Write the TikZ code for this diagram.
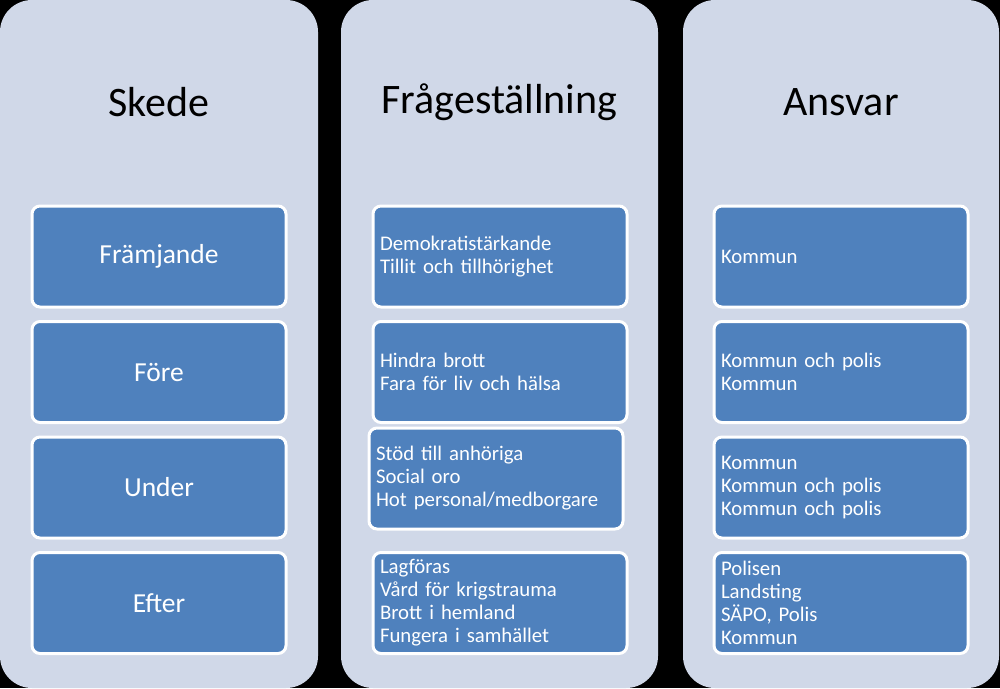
\documentclass[tikz,border=0pt]{standalone}
\usepackage{fontspec}
\setmainfont{Carlito}
\definecolor{colfill}{HTML}{D0D8E8}
\definecolor{boxfill}{HTML}{4F81BD}
\tikzset{
  column/.style={fill=colfill, rounded corners=32pt},
  title/.style={font=\fontsize{42}{50}\selectfont, text=black, anchor=center},
  stagebox/.style={draw=white, line width=3pt, fill=boxfill, rounded corners=8pt,
    minimum width=254pt, minimum height=101pt, text=white,
    font=\fontsize{27.5}{31}\selectfont, anchor=center},
  infobox/.style={draw=white, line width=3pt, fill=boxfill, rounded corners=8pt,
    minimum width=254pt, minimum height=101pt, text=white, inner xsep=7pt,
    text width=240pt, align=left,
    font=\fontsize{20.8}{23}\selectfont, anchor=center},
}
\begin{document}
\begin{tikzpicture}[x=1pt,y=-1pt]
\fill[black] (0,0) rectangle (1000,688);
\useasboundingbox (0,0) rectangle (1000,688);
% columns
\fill[column] (0,0) rectangle (318,688);
\fill[column] (341,0) rectangle (658,688);
\fill[column] (683,0) rectangle (999,688);
% titles
\node[title] (t1) at (159,102) {Skede};
\node[title] (t2) at (499.5,102) {Frågeställning};
\node[title] (t3) at (841,102) {Ansvar};
% stage boxes
\node[stagebox] (s1) at (159,256.5) {Främjande};
\node[stagebox] (s2) at (159,372) {Före};
\node[stagebox] (s3) at (159,487.5) {Under};
\node[stagebox] (s4) at (159,603) {Efter};
% question boxes
\node[infobox] (q1) at (500,256.5) {Demokratistärkande\\Tillit och tillhörighet};
\node[infobox] (q2) at (500,372) {Hindra brott\\Fara för liv och hälsa};
\node[infobox] (q3) at (496,478.5) {Stöd till anhöriga\\Social oro\\Hot personal/medborgare};
\node[infobox] (q4) at (500,603) {Lagföras\\Vård för krigstrauma\\Brott i hemland\\Fungera i samhället};
% responsibility boxes
\node[infobox] (a1) at (841,256.5) {Kommun};
\node[infobox] (a2) at (841,372) {Kommun och polis\\Kommun};
\node[infobox] (a3) at (841,487.5) {Kommun\\Kommun och polis\\Kommun och polis};
\node[infobox] (a4) at (841,603) {Polisen\\Landsting\\SÄPO, Polis\\Kommun};
\end{tikzpicture}
\end{document}
